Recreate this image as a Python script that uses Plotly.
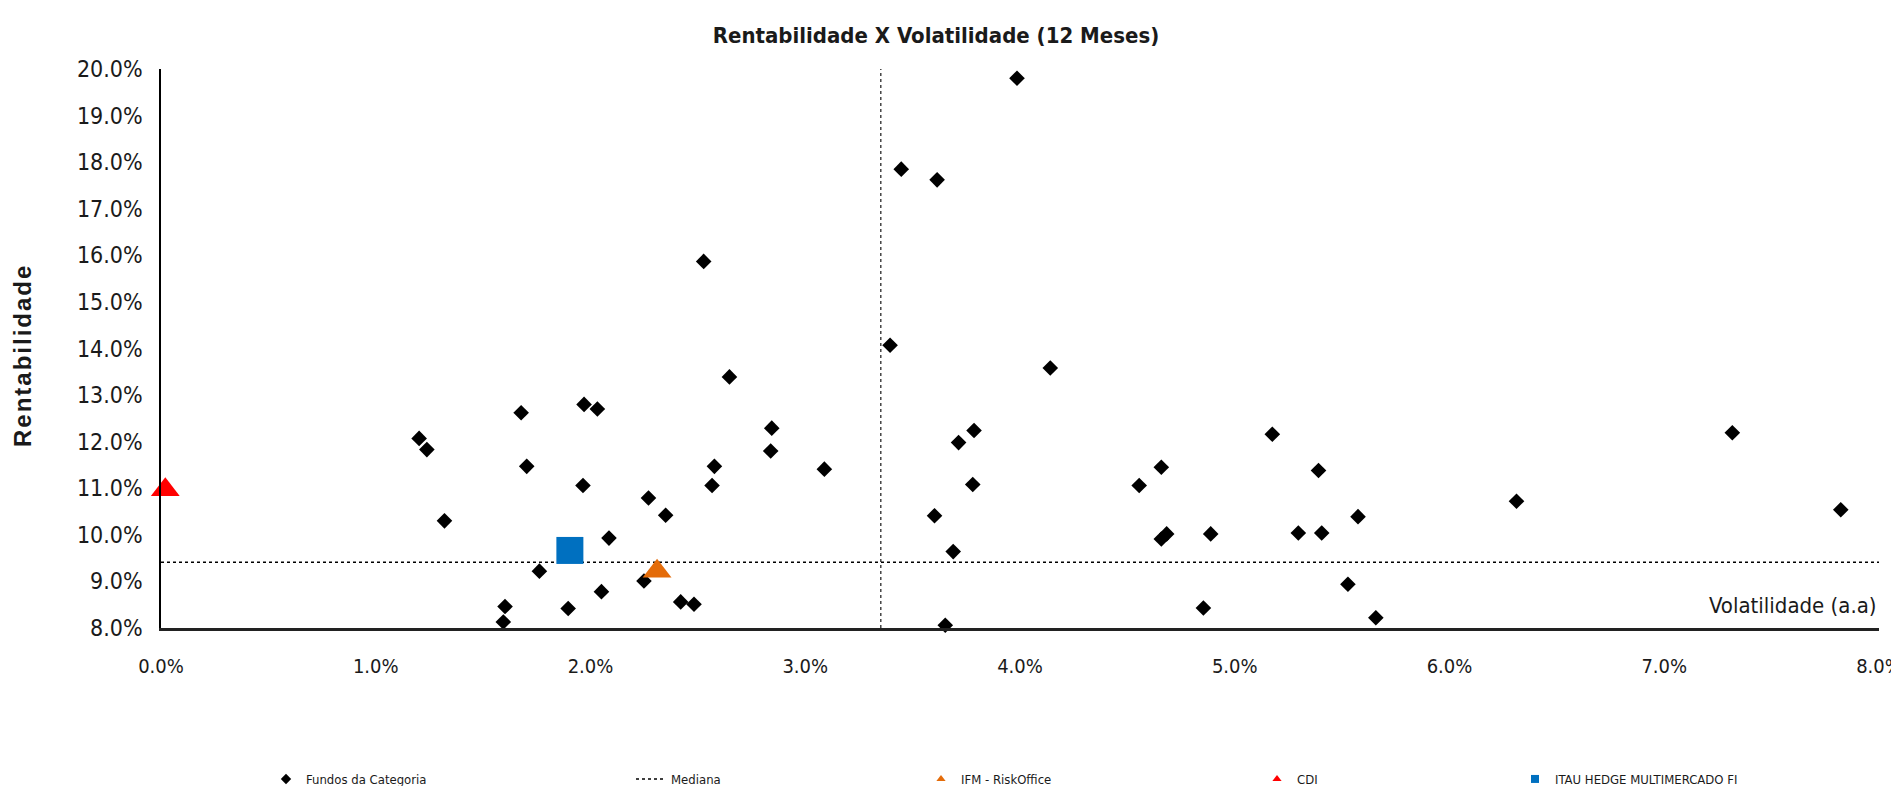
import plotly.graph_objects as go

# ---------------- data (percent units) ----------------
fundos_vol = [1.202, 1.238, 1.320, 1.594, 1.602, 1.677, 1.703, 1.762, 1.896, 1.965,
              1.970, 2.032, 2.051, 2.086, 2.249, 2.270, 2.350, 2.420, 2.482, 2.527,
              2.566, 2.577, 2.647, 2.839, 2.844, 3.089, 3.395, 3.447, 3.602, 3.614,
              3.652, 3.689, 3.714, 3.780, 3.786, 3.986, 4.141, 4.555, 4.658, 4.658,
              4.683, 4.854, 4.888, 5.175, 5.296, 5.390, 5.405, 5.527, 5.574, 5.657,
              6.312, 7.317, 7.822]
fundos_ret = [12.07, 11.83, 10.30, 8.13, 8.46, 12.62, 11.47, 9.22, 8.42, 11.06,
              12.80, 12.70, 8.78, 9.93, 9.01, 10.79, 10.42, 8.56, 8.51, 15.87,
              11.06, 11.47, 13.39, 11.80, 12.29, 11.41, 14.07, 17.85, 10.41, 17.62,
              8.06, 9.64, 11.98, 11.08, 12.24, 19.80, 13.58, 11.06, 11.45, 9.91,
              10.02, 8.43, 10.02, 12.16, 10.04, 11.38, 10.04, 8.94, 10.39, 8.22,
              10.72, 12.19, 10.54]

mediana_vol = 3.352
mediana_ret = 9.41

ifm_vol = [2.310]
ifm_ret = [9.22]
cdi_vol = [0.02]
cdi_ret = [10.97]
itau_vol = [1.904]
itau_ret = [9.665]

x_min, x_max = 0.0, 8.0
y_min, y_max = 8.0, 20.0
x_ticks = [0, 1, 2, 3, 4, 5, 6, 7, 8]
y_ticks = [8, 9, 10, 11, 12, 13, 14, 15, 16, 17, 18, 19, 20]
x_ticktext = [f"{v:.1f}%" for v in x_ticks]
y_ticktext = [f"{v:.1f}%" for v in y_ticks]

series_names = ["Fundos da Categoria", "Mediana", "IFM - RiskOffice", "CDI",
                "ITAU HEDGE MULTIMERCADO FI"]

# ---------------- style ----------------
FONT = "DejaVu Sans Condensed, DejaVu Sans, sans-serif"
TXT = "#1a1a1a"
ORANGE = "#E46C0A"
RED = "#FF0000"
BLUE = "#0070C0"

W, H = 1899, 786
ML, MR, MT, MB = 153, 28, 61, 166
PW = W - ML - MR
PH = H - MT - MB

fig = go.Figure()

# median lines
fig.add_trace(go.Scatter(x=[x_min, x_max], y=[mediana_ret, mediana_ret], mode="lines",
                         line=dict(color="black", width=1.6, dash="dot"),
                         showlegend=False, hoverinfo="skip"))
fig.add_trace(go.Scatter(x=[mediana_vol, mediana_vol], y=[y_min, y_max], mode="lines",
                         line=dict(color="black", width=1.1, dash="dot"),
                         showlegend=False, hoverinfo="skip"))

# points
fig.add_trace(go.Scatter(x=fundos_vol, y=fundos_ret, mode="markers", name=series_names[0],
                         marker=dict(symbol="diamond", size=12, color="black"),
                         showlegend=False, cliponaxis=False))
fig.add_trace(go.Scatter(x=ifm_vol, y=ifm_ret, mode="markers", name=series_names[2],
                         marker=dict(symbol="triangle-up", size=25, color=ORANGE),
                         showlegend=False, cliponaxis=False))
fig.add_trace(go.Scatter(x=cdi_vol, y=cdi_ret, mode="markers", name=series_names[3],
                         marker=dict(symbol="triangle-up", size=25, color=RED),
                         showlegend=False, cliponaxis=False))
fig.add_trace(go.Scatter(x=itau_vol, y=itau_ret, mode="markers", name=series_names[4],
                         marker=dict(symbol="square", size=27, color=BLUE),
                         showlegend=False, cliponaxis=False))

# legend entries (small symbols like the reference)
legend_widths = [320, 245, 291, 213, 240]
fig.add_trace(go.Scatter(x=[None], y=[None], mode="markers", name=series_names[0],
                         marker=dict(symbol="diamond", size=8, color="black"),
                         legendwidth=legend_widths[0]))
fig.add_trace(go.Scatter(x=[None], y=[None], mode="lines", name=series_names[1],
                         line=dict(color="black", width=1.5, dash="dot"),
                         legendwidth=legend_widths[1]))
fig.add_trace(go.Scatter(x=[None], y=[None], mode="markers", name=series_names[2],
                         marker=dict(symbol="triangle-up", size=8, color=ORANGE),
                         legendwidth=legend_widths[2]))
fig.add_trace(go.Scatter(x=[None], y=[None], mode="markers", name=series_names[3],
                         marker=dict(symbol="triangle-up", size=8, color=RED),
                         legendwidth=legend_widths[3]))
fig.add_trace(go.Scatter(x=[None], y=[None], mode="markers", name=series_names[4],
                         marker=dict(symbol="square", size=8, color=BLUE),
                         legendwidth=legend_widths[4]))

fig.update_layout(
    width=W, height=H,
    margin=dict(l=ML, r=MR, t=MT, b=MB, autoexpand=False),
    paper_bgcolor="white", plot_bgcolor="white",
    font=dict(family=FONT, color=TXT),
    title=dict(text="<b>Rentabilidade X Volatilidade (12 Meses)</b>",
               x=928 / W, xanchor="center", y=1 - 27 / H, yanchor="middle",
               font=dict(family=FONT, size=22, color=TXT)),
    showlegend=True,
    legend=dict(orientation="h", x=(258 - ML) / PW, xanchor="left",
                yref="container", y=15 / H, yanchor="middle",
                font=dict(family=FONT, size=13, color=TXT),
                bgcolor="rgba(0,0,0,0)", entrywidthmode="pixels",
                itemclick=False, itemdoubleclick=False),
    xaxis=dict(range=[x_min, x_max], tickvals=x_ticks, ticktext=x_ticktext,
               showgrid=False, zeroline=False, showline=True, linecolor="#222",
               linewidth=2.5, ticks="", ticklabelstandoff=18, ticklabeloverflow="allow",
               tickfont=dict(family=FONT, size=20, color=TXT)),
    yaxis=dict(range=[y_min, y_max], tickvals=y_ticks, ticktext=y_ticktext,
               showgrid=False, zeroline=False, showline=True, linecolor="black",
               linewidth=1.5, ticks="", ticklabelstandoff=12,
               tickfont=dict(family=FONT, size=23, color=TXT)),
    annotations=[
        dict(text="Volatilidade (a.a)", xref="paper", yref="paper", x=1,
             y=(620 - 597) / PH, xanchor="right", yanchor="middle", showarrow=False,
             font=dict(family=FONT, size=22, color=TXT)),
        dict(text="<span style='letter-spacing:2px'><b>Rentabilidade</b></span>",
             xref="paper", yref="paper",
             x=(15 - ML) / PW, y=(H - MB - 348) / PH,
             xanchor="center", yanchor="middle", textangle=-90, showarrow=False,
             font=dict(family="Liberation Sans, Arial, sans-serif", size=24, color=TXT)),
    ],
)

fig.write_html("out.html")
